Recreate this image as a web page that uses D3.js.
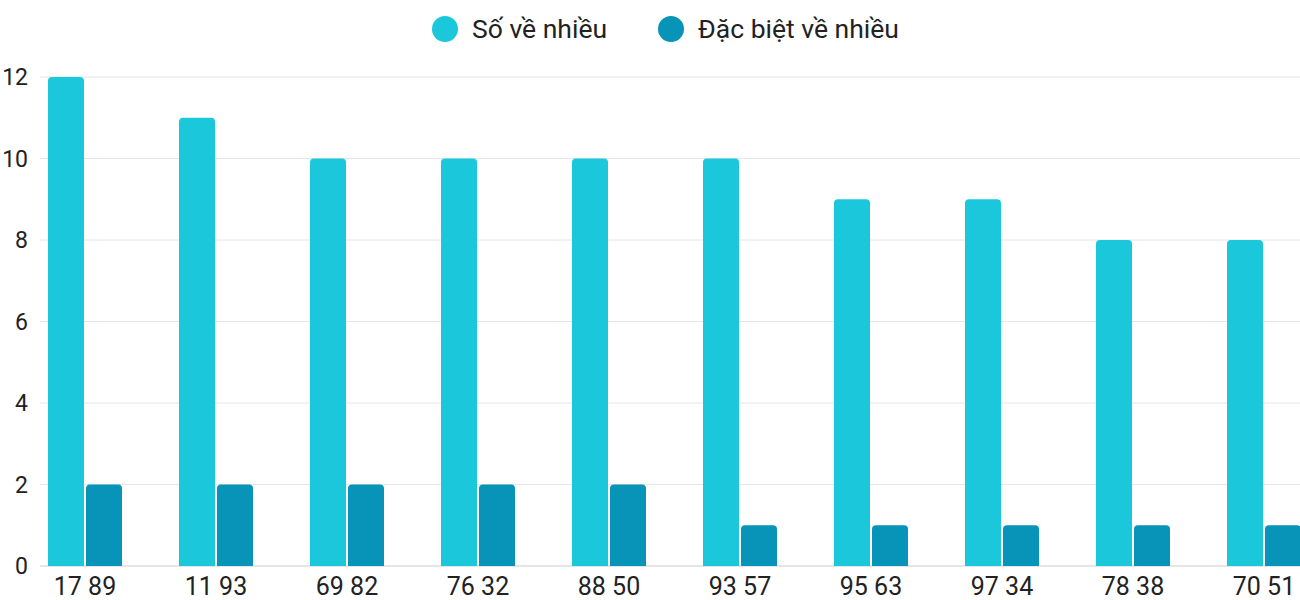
<!DOCTYPE html>
<meta charset="utf-8">
<title>Số về nhiều</title>
<style>
body { margin: 0; background: #fff; font-family: Roboto, sans-serif; }
</style>
<svg id="chart" width="1300" height="600"></svg>
<script src="https://cdn.jsdelivr.net/npm/d3@7"></script>
<script>

var soVe = ["17", "11", "69", "76", "88", "93", "95", "97", "78", "70"],
    soVeCount = [12, 11, 10, 10, 10, 10, 9, 9, 8, 8],
    dacBiet = ["89", "93", "82", "32", "50", "57", "63", "34", "38", "51"],
    dacBietCount = [2, 2, 2, 2, 2, 1, 1, 1, 1, 1],
    yTicks = [0, 2, 4, 6, 8, 10, 12],
    legendNames = ["Số về nhiều", "Đặc biệt về nhiều"],
    colors = ["#1bc8db", "#0794b8"];

var svg = d3.select("#chart");

var x = d3.scaleBand().domain(d3.range(soVe.length)).range([40, 1350]);
var y = d3.scaleLinear().domain([0, 12]).range([566, 77]);

// grid
svg.selectAll(".grid").data(yTicks).enter().append("line")
    .attr("x1", 40).attr("x2", 1300)
    .attr("y1", function(d) { return y(d); }).attr("y2", function(d) { return y(d); })
    .attr("stroke", function(d) { return d == 0 ? "#ccc" : "#e6e6e6"; });

svg.selectAll(".ylab").data(yTicks).enter().append("text")
    .attr("x", 28).attr("y", function(d) { return y(d) + 8; })
    .attr("text-anchor", "end").attr("font-size", 23).attr("fill", "#222")
    .text(function(d) { return d; });

// rounded-top bar
function bar(x0, w, v) {
  var top = y(v), bot = y(0), r = 4;
  return "M" + x0 + "," + bot + "V" + (top + r) + "Q" + x0 + "," + top + " " + (x0 + r) + "," + top +
    "H" + (x0 + w - r) + "Q" + (x0 + w) + "," + top + " " + (x0 + w) + "," + (top + r) + "V" + bot + "Z";
}

var series = [[soVe, soVeCount, 8], [dacBiet, dacBietCount, 46]];
series.forEach(function(s, k) {
  svg.selectAll(".bar" + k).data(s[1]).enter().append("path")
      .attr("d", function(d, i) { return bar(x(i) + s[2], 36, d); })
      .attr("fill", colors[k]);
});

svg.selectAll(".xlab").data(soVe).enter().append("text")
    .attr("x", function(d, i) { return x(i) + 45; })
    .attr("y", 595).attr("text-anchor", "middle")
    .attr("font-size", 25).attr("fill", "#222")
    .text(function(d, i) { return d + " " + dacBiet[i]; });

// legend
var lx = [445, 671];
legendNames.forEach(function(n, k) {
  svg.append("circle").attr("cx", lx[k]).attr("cy", 29).attr("r", 13).attr("fill", colors[k]);
  svg.append("text").attr("x", lx[k] + 27).attr("y", 38)
      .attr("font-size", 26.5).attr("fill", "#222").text(n);
});

</script>
